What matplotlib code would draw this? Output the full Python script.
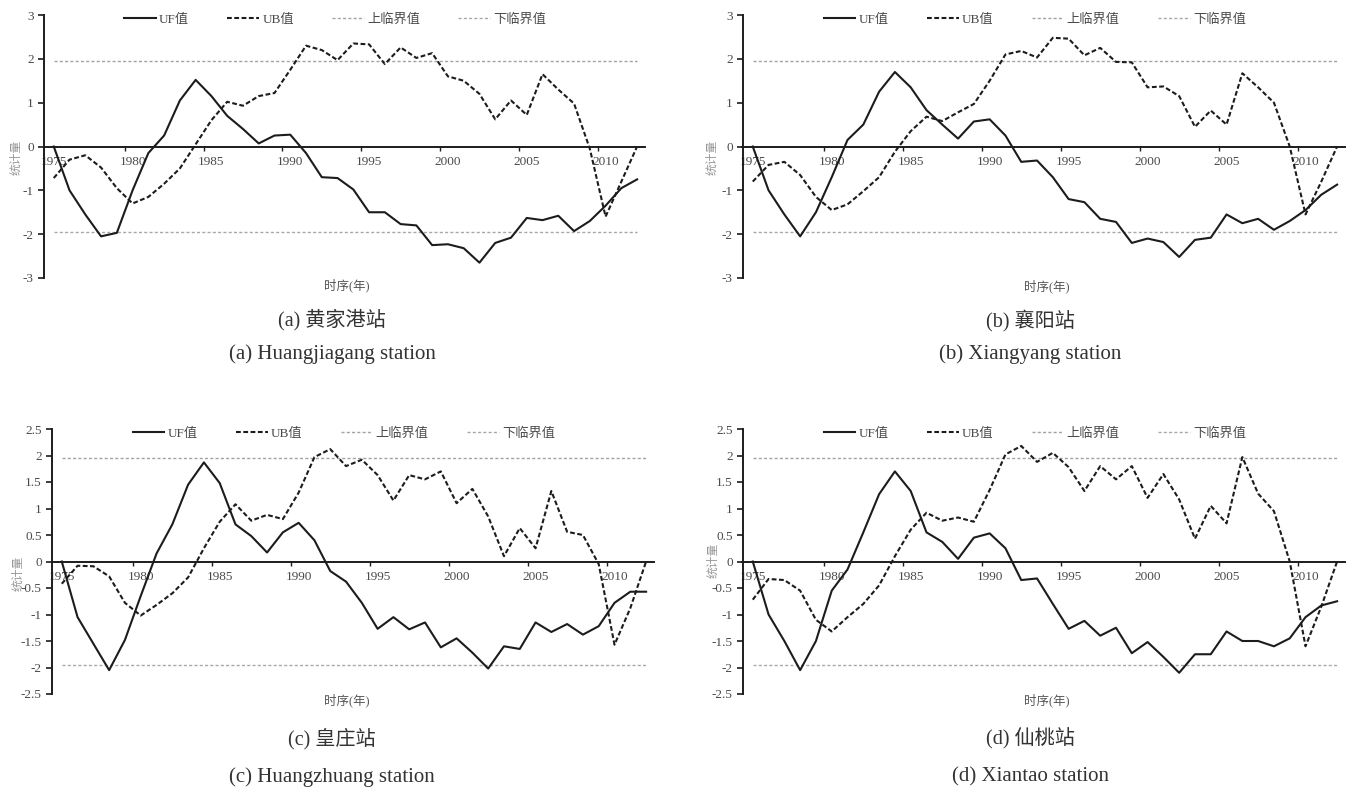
import numpy as np
import matplotlib
matplotlib.use("Agg")
import matplotlib.pyplot as plt
from matplotlib.ticker import FixedLocator, FormatStrFormatter

plt.rcParams['font.family'] = ['Liberation Serif', 'Noto Sans CJK SC']
plt.rcParams['axes.unicode_minus'] = False

years = list(range(1975, 2013))
year_labels = [1975, 1980, 1985, 1990, 1995, 2000, 2005, 2010]
crit_upper = 1.96
crit_lower = -1.96

# Mann-Kendall UF / UB statistics for each station
uf_hjg = [0, -1.0, -1.55, -2.05, -1.97, -1.0, -0.15, 0.25, 1.05, 1.52,
          1.15, 0.7, 0.4, 0.07, 0.25, 0.27, -0.15, -0.7, -0.72, -0.98,
          -1.5, -1.5, -1.77, -1.8, -2.25, -2.23, -2.32, -2.65, -2.2, -2.08,
          -1.63, -1.68, -1.58, -1.93, -1.7, -1.35, -0.95, -0.75]
ub_hjg = [-0.72, -0.3, -0.2, -0.48, -0.95, -1.3, -1.15, -0.85, -0.5, 0.05,
          0.6, 1.02, 0.93, 1.15, 1.22, 1.75, 2.3, 2.2, 1.97, 2.35,
          2.33, 1.88, 2.26, 2.02, 2.13, 1.6, 1.5, 1.2, 0.62, 1.05,
          0.72, 1.65, 1.3, 0.98, -0.05, -1.6, -0.8, 0.0]

uf_xy = [0, -1.0, -1.55, -2.05, -1.5, -0.7, 0.15, 0.5, 1.25, 1.7,
         1.35, 0.83, 0.5, 0.18, 0.57, 0.62, 0.25, -0.35, -0.32, -0.7,
         -1.2, -1.27, -1.65, -1.72, -2.2, -2.1, -2.18, -2.52, -2.13, -2.08,
         -1.55, -1.75, -1.65, -1.9, -1.7, -1.45, -1.1, -0.87]
ub_xy = [-0.8, -0.42, -0.35, -0.65, -1.15, -1.45, -1.32, -1.02, -0.7, -0.12,
         0.35, 0.68, 0.58, 0.78, 0.97, 1.5, 2.1, 2.18, 2.03, 2.48,
         2.46, 2.08, 2.25, 1.93, 1.92, 1.35, 1.37, 1.15, 0.45, 0.82,
         0.5, 1.67, 1.35, 1.0, 0.0, -1.55, -0.8, 0.0]

uf_hz = [0, -1.05, -1.55, -2.05, -1.48, -0.65, 0.15, 0.7, 1.45, 1.87,
         1.48, 0.7, 0.48, 0.17, 0.55, 0.73, 0.4, -0.18, -0.38, -0.78,
         -1.27, -1.05, -1.28, -1.15, -1.62, -1.45, -1.72, -2.02, -1.6, -1.65,
         -1.15, -1.33, -1.18, -1.38, -1.22, -0.78, -0.57, -0.57]
ub_hz = [-0.42, -0.08, -0.09, -0.28, -0.78, -1.02, -0.82, -0.6, -0.3, 0.25,
         0.75, 1.08, 0.77, 0.88, 0.8, 1.3, 1.97, 2.12, 1.8, 1.92,
         1.63, 1.15, 1.63, 1.55, 1.7, 1.1, 1.37, 0.85, 0.1, 0.63,
         0.25, 1.33, 0.56, 0.5, -0.05, -1.57, -0.88, 0.0]

uf_xt = [0, -1.0, -1.5, -2.05, -1.5, -0.55, -0.15, 0.55, 1.27, 1.7,
         1.33, 0.55, 0.37, 0.05, 0.45, 0.53, 0.25, -0.35, -0.32, -0.8,
         -1.27, -1.12, -1.4, -1.25, -1.73, -1.52, -1.8, -2.1, -1.75, -1.75,
         -1.32, -1.5, -1.5, -1.6, -1.45, -1.05, -0.83, -0.75]
ub_xt = [-0.72, -0.33, -0.35, -0.55, -1.1, -1.32, -1.05, -0.8, -0.45, 0.1,
         0.6, 0.92, 0.77, 0.83, 0.75, 1.35, 2.02, 2.18, 1.88, 2.05,
         1.78, 1.33, 1.8, 1.55, 1.8, 1.2, 1.65, 1.17, 0.43, 1.05,
         0.72, 1.97, 1.28, 0.95, 0.0, -1.6, -0.85, 0.0]

cn_titles = ["(a) 黄家港站", "(b) 襄阳站", "(c) 皇庄站", "(d) 仙桃站"]
en_titles = ["(a) Huangjiagang station", "(b) Xiangyang station",
             "(c) Huangzhuang station", "(d) Xiantao station"]

W, H = 1353, 789
fig = plt.figure(figsize=(W / 100, H / 100), dpi=100)
fig.patch.set_facecolor('white')


def box(left, top, right, bottom):
    return [left / W, 1 - bottom / H, (right - left) / W, (bottom - top) / H]


panels = [
    (uf_hjg, ub_hjg, box(43.5, 15, 645, 278), 3, 1.0),
    (uf_xy, ub_xy, box(742.5, 15, 1345, 278), 3, 1.0),
    (uf_hz, ub_hz, box(51.5, 429, 654, 694), 2.5, 0.5),
    (uf_xt, ub_xt, box(742.5, 429, 1345, 694), 2.5, 0.5),
]
# caption / axis-title anchor positions in pixels
cap_x = [332, 1030, 332, 1030]
cap_cn_y = [320, 320, 739, 739]
cap_en_y = [354, 354, 777, 777]
xlab_pos = [(347, 285), (1047, 286), (347, 700), (1047, 700)]
ylab_pos = [(16, 157), (712, 157), (18, 573), (713, 560)]

ink = '#1c1c1c'
txt = '#4a4a4a'

for i, (uf, ub, rect, ymax, step) in enumerate(panels):
    ax = fig.add_axes(rect)
    n = len(years)
    ax.plot(years, uf, color=ink, lw=1.5, label='UF值', zorder=4)
    ax.plot(years, ub, color=ink, lw=1.5, ls=(0, (2.3, 1.2)), label='UB值', zorder=4)
    ax.plot(years, np.full(n, crit_upper), color='#a3a3a3', lw=1.0,
            ls=(0, (2.2, 1.6)), label='上临界值', zorder=3)
    ax.plot(years, np.full(n, crit_lower), color='#b0a4a6', lw=1.0,
            ls=(0, (2.2, 1.6)), label='下临界值', zorder=3)

    ax.set_xlim(1974.35, 2012.5)
    ax.set_ylim(-ymax, ymax)

    for s in ['top', 'right']:
        ax.spines[s].set_visible(False)
    ax.spines['left'].set_linewidth(1.4)
    ax.spines['left'].set_color(ink)
    ax.spines['bottom'].set_position(('data', 0))
    ax.spines['bottom'].set_linewidth(1.4)
    ax.spines['bottom'].set_color(ink)
    ax.spines['bottom'].set_zorder(2)

    ax.set_yticks(np.arange(-ymax, ymax + step / 2, step))
    ax.yaxis.set_major_formatter(FormatStrFormatter('%g'))
    ax.tick_params(axis='y', direction='out', length=4, width=1.2,
                   color=ink, labelsize=9.5, labelcolor=txt, pad=3)

    ax.set_xticks(year_labels)
    ax.set_xticklabels([str(y) for y in year_labels])
    ax.xaxis.set_minor_locator(FixedLocator([1979.5, 1984.5, 1989.5, 1994.5,
                                             1999.5, 2004.5, 2009.5]))
    ax.tick_params(axis='x', which='major', length=0, labelsize=9.5,
                   labelcolor=txt, pad=7)
    ax.tick_params(axis='x', which='minor', length=3, width=1.0,
                   direction='out', color=ink)

    leg = ax.legend(ncol=4, loc='upper center', bbox_to_anchor=(0.485, 1.005),
                    frameon=False, fontsize=9.5, handlelength=2.4,
                    handletextpad=0.25, columnspacing=2.9,
                    borderpad=0, borderaxespad=0)
    for t in leg.get_texts():
        t.set_color(txt)

    fig.text(xlab_pos[i][0] / W, 1 - xlab_pos[i][1] / H, '时序(年)',
             ha='center', va='center', fontsize=9, color='#555555')
    fig.text(ylab_pos[i][0] / W, 1 - ylab_pos[i][1] / H, '统计量',
             ha='center', va='center', fontsize=8.5, color='#999999',
             rotation=90)

    fig.text(cap_x[i] / W, 1 - cap_cn_y[i] / H, cn_titles[i],
             ha='center', va='center', fontsize=14.5, color='#333333')
    fig.text(cap_x[i] / W, 1 - cap_en_y[i] / H, en_titles[i],
             ha='center', va='center', fontsize=15, color='#333333')

fig.savefig('out.png', dpi=100, facecolor='white')
